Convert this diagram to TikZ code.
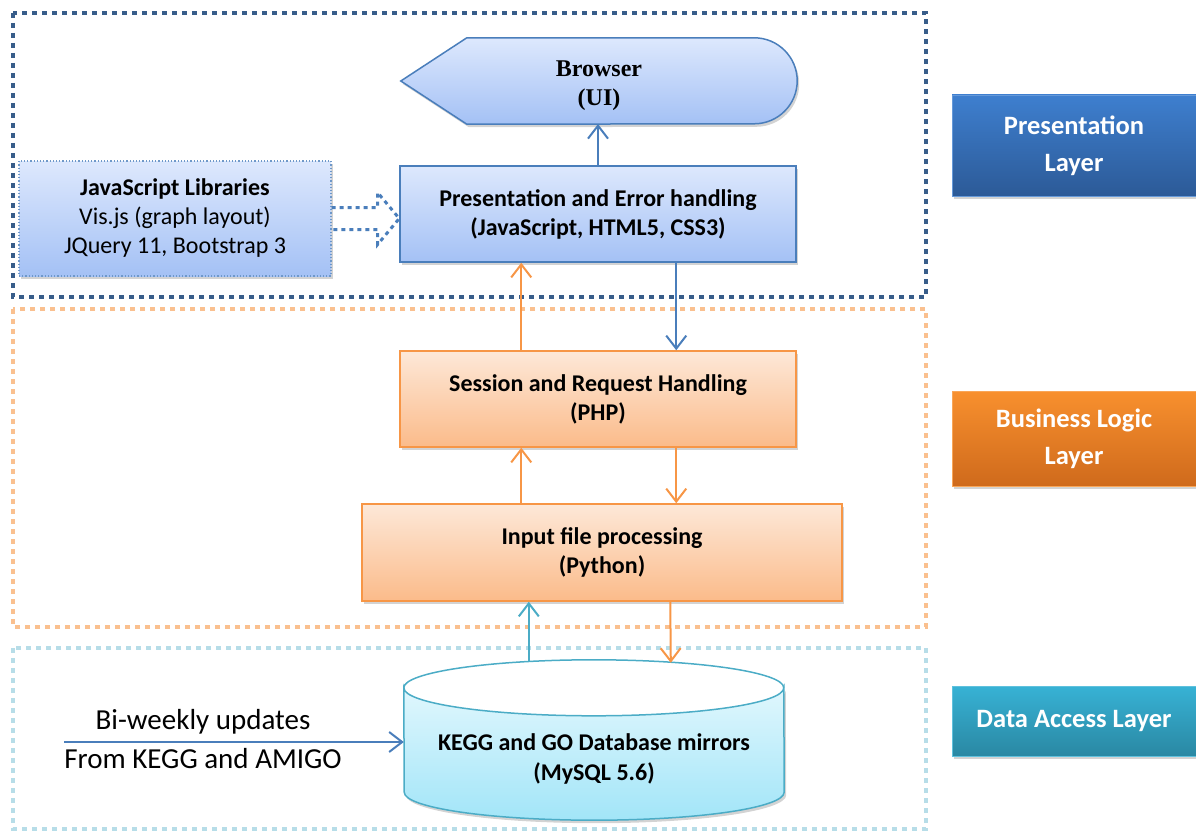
\documentclass[tikz,border=0pt]{standalone}
\usepackage{fontspec}
\setmainfont{Carlito}
\newfontfamily\timesfont{Liberation Serif}
\usetikzlibrary{arrows.meta,shadows,calc,backgrounds}
\definecolor{frameblue}{HTML}{385D8A}
\definecolor{frameorange}{HTML}{FAC08F}
\definecolor{framecyan}{HTML}{B7DDE8}
\definecolor{nodeblue}{HTML}{4A7EBB}
\definecolor{bluetop}{HTML}{DDE8FD}
\definecolor{bluebot}{HTML}{A4C1F5}
\definecolor{nodeorange}{HTML}{F79646}
\definecolor{orangetop}{HTML}{FDE8D8}
\definecolor{orangebot}{HTML}{FBBB8A}
\definecolor{nodecyan}{HTML}{4BACC6}
\definecolor{cyantop}{HTML}{E0F7FD}
\definecolor{cyanbot}{HTML}{A2E5F8}
\definecolor{plTop}{HTML}{3E7FCF}
\definecolor{plBot}{HTML}{2C5A97}
\definecolor{blTop}{HTML}{F8902E}
\definecolor{blBot}{HTML}{CF6A1C}
\definecolor{dlTop}{HTML}{37B2D5}
\definecolor{dlBot}{HTML}{2A88A3}
\begin{document}
\begin{tikzpicture}[x=1pt,y=-1pt,
  layerframe/.style={line width=4pt, dash pattern=on 5pt off 5pt},
  shad/.style={drop shadow={opacity=0.35, shadow xshift=2pt, shadow yshift=-3pt}},
  procbox/.style={shad, line width=1.5pt, align=center, inner sep=0pt,
    font=\bfseries\fontsize{24}{29}\selectfont},
  bluebox/.style={procbox, draw=nodeblue, top color=bluetop, bottom color=bluebot},
  orangebox/.style={procbox, draw=nodeorange, top color=orangetop, bottom color=orangebot},
  layerbox/.style={shad, text=white, align=center, inner sep=0pt, minimum width=244pt,
    font=\bfseries\fontsize{26.5}{37}\selectfont},
  arr/.style={line width=2pt, -{Straight Barb[length=13pt,width=20pt,line width=2pt]}},
]
\useasboundingbox (0,0) rectangle (1196,832);

% layer frames
\draw[layerframe, frameblue] (13,13) rectangle (926,297);
\draw[layerframe, frameorange] (13,309) rectangle (926,627);
\draw[layerframe, framecyan] (13,648) rectangle (926,829);

% browser
\node (browser) at (599,86) [minimum width=396pt, minimum height=86pt, inner sep=0pt,
  align=center, font=\timesfont\bfseries\fontsize{24}{29}\selectfont] {Browser\\(UI)};
\begin{scope}[on background layer]
\path[shad, draw=nodeblue, line width=1.5pt, top color=bluetop, bottom color=bluebot]
  ($(browser.west)+(0,-5)$) -- ($(browser.north west)+(66,-5)$) -- ($(browser.north east)+(-43,-5)$)
  arc[start angle=-90, end angle=90, radius=43] -- ($(browser.south west)+(66,-5)$) -- cycle;
\end{scope}

% process boxes
\node[bluebox, minimum width=396pt, minimum height=96pt] (pres) at (598,214)
  {Presentation and Error handling\\(JavaScript, HTML5, CSS3)};
\node[bluebox, draw=nodeblue!80, line width=1.2pt, dotted, minimum width=312pt, minimum height=115pt,
  font=\fontsize{24}{29}\selectfont] (js) at (175,218.5)
  {\textbf{JavaScript Libraries}\\Vis.js (graph layout)\\JQuery 11, Bootstrap 3};
\node[orangebox, minimum width=396pt, minimum height=96pt] (sess) at (598,399)
  {Session and Request Handling\\(PHP)};
\node[orangebox, minimum width=480pt, minimum height=97pt] (inp) at (602,552.5)
  {Input file processing\\(Python)};

% database cylinder
\node (db) at (594,740) [minimum width=380pt, minimum height=160pt, inner sep=0pt] {};
\node (dbtext) at (594,759) [align=center, font=\bfseries\fontsize{24}{30}\selectfont]
  {KEGG and GO Database mirrors\\(MySQL 5.6)};
\begin{scope}[on background layer]
\path[shad, draw=nodecyan, line width=1.5pt, top color=cyantop, bottom color=cyanbot]
  ($(db.north west)+(0,28)$) arc[start angle=180, end angle=360, x radius=190, y radius=-28]
  -- ($(db.south east)+(0,-28)$)
  arc[start angle=0, end angle=-180, x radius=190, y radius=-28] -- cycle;
\draw[draw=nodecyan, line width=1.5pt]
  ($(db.north west)+(0,28)$) arc[start angle=180, end angle=0, x radius=190, y radius=-28];
\end{scope}

% layer labels
\node[layerbox, minimum height=101pt, top color=plTop, bottom color=plBot, draw=plTop!80!white] (pl) at (1074,145.5)
  {Presentation\\Layer};
\node[layerbox, minimum height=95pt, top color=blTop, bottom color=blBot, draw=blTop!80!white] (bl) at (1074,438.5)
  {Business Logic\\Layer};
\node[layerbox, minimum height=70pt, top color=dlTop, bottom color=dlBot, draw=dlTop!80!white] (dl) at (1074,721)
  {Data Access Layer};

% connectors
\coordinate (bs) at (599,124);
\draw[arr, nodeblue] (pres.north) -- (pres.north |- bs);
\coordinate (a1) at ($(sess.north west)+(122,0)$);
\draw[arr, nodeorange] (a1) -- (a1 |- pres.south);
\coordinate (a2) at ($(pres.south west)+(277,0)$);
\draw[arr, nodeblue] (a2) -- (a2 |- sess.north);
\coordinate (a3) at ($(inp.north west)+(160,0)$);
\draw[arr, nodeorange] (a3) -- (a3 |- sess.south);
\coordinate (a4) at ($(sess.south west)+(277,0)$);
\draw[arr, nodeorange] (a4) -- (a4 |- inp.north);
\coordinate (a5) at ($(db.north west)+(125,0)$);
\coordinate (a5b) at ($(db.north west)+(125,2)$);
\draw[arr, nodecyan] (a5b) -- (a5 |- inp.south);
\coordinate (a6) at ($(inp.south west)+(309,0)$);
\coordinate (a6b) at ($(db.north west)+(267,3)$);
\draw[arr, nodeorange] (a6) -- (a6b);

% hollow dotted block arrow
\draw[nodeblue, line width=3pt, dash pattern=on 4pt off 4pt]
  ($(js.east)+(0,-11)$) -- ($(js.east)+(46,-11)$) -- ($(js.east)+(46,-26)$)
  -- (pres.west |- js.east) -- ($(js.east)+(46,26)$) -- ($(js.east)+(46,11)$) -- ($(js.east)+(0,11)$);

% updates arrow
\coordinate (src) at (64,742);
\draw[arr, nodeblue] (src) -- (db.west |- src);
\node[font=\fontsize{29}{32}\selectfont] (bw1) at (203,722) {Bi-weekly updates};
\node[font=\fontsize{29}{32}\selectfont] (bw2) at (203,759) {From KEGG and AMIGO};
\end{tikzpicture}
\end{document}
